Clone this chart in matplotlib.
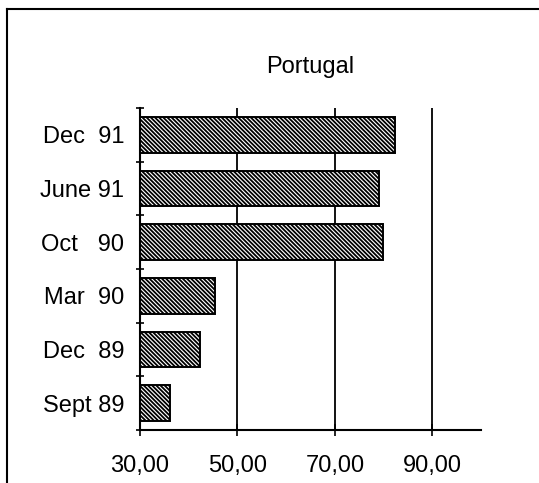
import matplotlib.pyplot as plt
from matplotlib.lines import Line2D

plt.rcParams['font.family'] = ['Liberation Sans', 'DejaVu Sans']
plt.rcParams['hatch.linewidth'] = 1.3

periods = ["Dec  91", "June 91", "Oct   90", "Mar  90", "Dec  89", "Sept 89"]
values = [82.4, 79.1, 79.9, 45.5, 42.3, 36.1]
xticks = [30, 50, 70, 90]
xticklabels = ["30,00", "50,00", "70,00", "90,00"]

fig = plt.figure(figsize=(5.39, 4.83), dpi=100)
ax = fig.add_axes([0.2597, 0.1097, 0.6327, 0.6667])

pos = list(range(len(periods)))
ax.barh(pos, [v - 30 for v in values], left=30, height=0.66,
        color='white', edgecolor='black', linewidth=1.4, hatch='\\' * 8, zorder=3)

ax.set_xlim(30, 100)
ax.set_ylim(len(periods) - 0.5, -0.5)

for g in xticks[1:]:
    ax.axvline(g, color='black', linewidth=1.3, zorder=1)

ax.set_xticks(xticks)
ax.set_xticklabels(xticklabels, fontsize=17)
ax.set_yticks(pos)
ax.set_yticklabels(periods, fontsize=17)
ax.set_yticks([p - 0.5 for p in pos] + [len(periods) - 0.5], minor=True)
ax.tick_params(axis='y', which='major', length=0, pad=11.5)
ax.tick_params(axis='y', which='minor', direction='inout', length=6, width=1.2)
ax.tick_params(axis='x', which='major', direction='inout', length=8, width=1.2, pad=14)

for s in ['top', 'right']:
    ax.spines[s].set_visible(False)
ax.spines['left'].set_linewidth(1.5)
ax.spines['bottom'].set_linewidth(1.5)

fig.text(0.575, 1 - 67 / 483, "Portugal", fontsize=17, ha='center', va='center')

# outer frame (left and top only visible)
fig.add_artist(Line2D([7 / 539, 7 / 539], [0, 1 - 9 / 483], transform=fig.transFigure,
                      color='black', linewidth=1.5))
fig.add_artist(Line2D([7 / 539, 1], [1 - 9 / 483, 1 - 9 / 483], transform=fig.transFigure,
                      color='black', linewidth=1.5))

fig.savefig('out.png', dpi=100)
